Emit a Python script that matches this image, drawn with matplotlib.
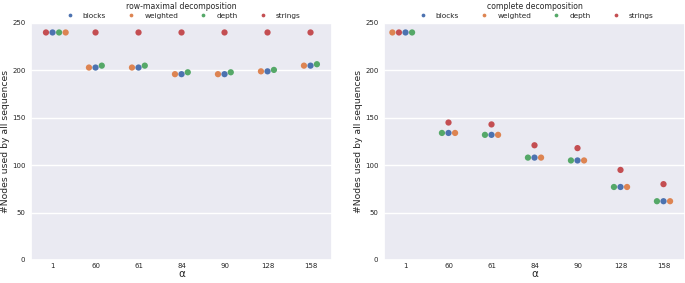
import numpy as np
import pandas as pd
import matplotlib
matplotlib.use("Agg")
import matplotlib.pyplot as plt
import seaborn as sns

alphas = ["1", "60", "61", "84", "90", "128", "158"]
methods = ["blocks", "weighted", "depth", "strings"]
# order the rows are stored in (affects swarm placement of equal values)
row_order = ["blocks", "strings", "depth", "weighted"]

# row-maximal decomposition
row_blocks = [240, 203, 203, 196, 196, 199, 205]
row_weighted = [240, 203, 203, 196, 196, 199, 205]
row_depth = [240, 205, 205, 198, 198, 200.5, 206.5]
row_strings = [240, 240, 240, 240, 240, 240, 240]

# complete decomposition
comp_blocks = [240, 134, 132, 108, 105, 77, 62]
comp_weighted = [240, 134, 132, 108, 105, 77, 62]
comp_depth = [240, 134, 132, 108, 105, 77, 62]
comp_strings = [240, 145, 143, 121, 118, 95, 80]


def make_df(blocks, weighted, depth, strings):
    series = {"blocks": blocks, "weighted": weighted, "depth": depth, "strings": strings}
    rows = []
    for a_i, a in enumerate(alphas):
        for name in row_order:
            rows.append({"alpha": a, "nodes": series[name][a_i], "method": name})
    return pd.DataFrame(rows)


sns.set_theme(style="darkgrid")
plt.rcParams["font.family"] = ["DejaVu Sans"]

fig = plt.figure(figsize=(6.85, 2.83), dpi=100)
ax1 = fig.add_axes([0.0453, 0.0813, 0.4394, 0.8375])
ax2 = fig.add_axes([0.5606, 0.0813, 0.4394, 0.8375])
panels = [
    (ax1, make_df(row_blocks, row_weighted, row_depth, row_strings), "row-maximal decomposition"),
    (ax2, make_df(comp_blocks, comp_weighted, comp_depth, comp_strings), "complete decomposition"),
]

for ax, df, title in panels:
    sns.swarmplot(data=df, x="alpha", y="nodes", hue="method", order=alphas,
                  hue_order=methods, size=4.5, ax=ax)
    ax.set_ylim(0, 250)
    ax.set_yticks([0, 50, 100, 150, 200, 250])
    ax.set_xlabel("α", fontsize=7.5, labelpad=0)
    ax.set_ylabel("#Nodes used by all sequences", fontsize=6.7, labelpad=1.5)
    ax.tick_params(axis="y", labelsize=5, pad=4, length=0)
    ax.tick_params(axis="x", labelsize=5, pad=2.5, length=0)
    ax.xaxis.grid(False)
    ax.legend(title=title, loc="lower center", bbox_to_anchor=(0.5, 1.0),
              ncol=4, frameon=False, fontsize=5.3, title_fontsize=5.6,
              markerscale=0.6, handletextpad=0.8, columnspacing=2.4,
              borderpad=0.05, labelspacing=0.2)

fig.savefig("out.png", dpi=100)
